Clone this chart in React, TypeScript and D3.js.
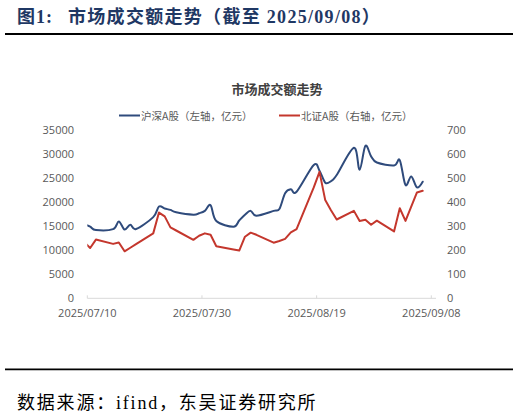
import * as d3 from "d3";

// trading days (last point sits on 09/06 in the source chart)
const dates = [
  "2025-07-09", "2025-07-10", "2025-07-11", "2025-07-14", "2025-07-15", "2025-07-16",
  "2025-07-17", "2025-07-18", "2025-07-21", "2025-07-22", "2025-07-23", "2025-07-24",
  "2025-07-25", "2025-07-28", "2025-07-29", "2025-07-30", "2025-07-31", "2025-08-01",
  "2025-08-04", "2025-08-05", "2025-08-06", "2025-08-07", "2025-08-08", "2025-08-11",
  "2025-08-12", "2025-08-13", "2025-08-14", "2025-08-15", "2025-08-18", "2025-08-19",
  "2025-08-20", "2025-08-21", "2025-08-22", "2025-08-25", "2025-08-26", "2025-08-27",
  "2025-08-28", "2025-08-29", "2025-09-01", "2025-09-02", "2025-09-03", "2025-09-04",
  "2025-09-05", "2025-09-06",
];

// 沪深A股 (亿元, left axis)
const hsValues = [
  15300, 14800, 14100, 14300, 15900, 14200, 15200, 14300, 16800, 19000, 18600, 18300,
  17800, 17300, 17600, 18100, 19300, 16000, 14800, 16100, 17300, 18100, 17100, 18100,
  18500, 21800, 22600, 22100, 27700, 26500, 24000, 24300, 25600, 31300, 26700, 31700,
  29500, 28200, 27600, 28700, 23500, 25300, 23000, 24200,
];

// 北证A股 (亿元, right axis)
const bjValues = [
  231, 207, 242, 224, 230, 193, 208, 223, 268, 355, 339, 293,
  280, 241, 258, 268, 262, 214, 201, 196, 254, 271, 262, 229,
  236, 245, 272, 286, 460, 525, 407, 365, 326, 362, 320, 325,
  304, 321, 276, 373, 320, 380, 439, 446,
];

const xTickDates = ["2025-07-10", "2025-07-30", "2025-08-19", "2025-09-08"];
const leftTicks = [0, 5000, 10000, 15000, 20000, 25000, 30000, 35000];
const rightTicks = [0, 100, 200, 300, 400, 500, 600, 700];

const W = 518;
const H = 416;
const BLUE = "#2f4b7c";
const RED = "#c4372d";
const GREY_TEXT = "#595959";
const TITLE_BLUE = "#1f3864";
const NUM_FONT = "'Open Sans', 'Noto Sans CJK SC', sans-serif";
const CJK_FONT = "'Noto Sans CJK SC', sans-serif";
const SERIF_FONT = "'Liberation Serif', 'Noto Sans CJK SC', serif";

const parse = d3.timeParse("%Y-%m-%d");
const fmt = d3.timeFormat("%Y/%m/%d");

export default function App() {
  const days = dates.map((d) => parse(d) as Date);
  const ticks = xTickDates.map((d) => parse(d) as Date);

  const x = d3.scaleTime().domain([ticks[0], ticks[ticks.length - 1]]).range([87.3, 431.3]);
  const yL = d3.scaleLinear().domain([0, 35000]).range([297.5, 130]);
  const yR = d3.scaleLinear().domain([0, 700]).range([297.5, 130]);

  // points sit in the middle of their day slot
  const px = (i: number) => x(d3.timeHour.offset(days[i], 12));

  const hsLine = d3
    .line<number>()
    .x((_, i) => px(i))
    .y((v) => yL(v))
    .curve(d3.curveCardinal.tension(0));

  const bjLine = d3
    .line<number>()
    .x((_, i) => px(i))
    .y((v) => yR(v));

  const [x0, x1] = x.range();
  const axisY = 298.3;

  return (
    <svg
      width={W}
      height={H}
      style={{ position: "absolute", left: 0, top: 0, background: "#fff" }}
    >
      {/* header */}
      <text x={17} y={23} fontFamily={SERIF_FONT} fontWeight={700} fontSize={18} fill={TITLE_BLUE} letterSpacing={1}>
        图1:
      </text>
      <text x={68} y={23} fontFamily={SERIF_FONT} fontWeight={700} fontSize={18} fill={TITLE_BLUE} letterSpacing={1.3}>
        市场成交额走势（截至 2025/09/08）
      </text>
      <line x1={5} x2={513} y1={34} y2={34} stroke="#000" strokeWidth={1.8} />

      {/* chart title */}
      <text x={277} y={94} textAnchor="middle" fontFamily={CJK_FONT} fontWeight={700} fontSize={13} fill="#404040">
        市场成交额走势
      </text>

      {/* legend */}
      <line x1={119} x2={140} y1={115.5} y2={115.5} stroke={BLUE} strokeWidth={2} />
      <text x={141} y={119.5} fontFamily={CJK_FONT} fontSize={10.5} fill={GREY_TEXT}>
        沪深A股（左轴，亿元）
      </text>
      <line x1={279} x2={300} y1={115.5} y2={115.5} stroke={RED} strokeWidth={2} />
      <text x={301} y={119.5} fontFamily={CJK_FONT} fontSize={10.5} fill={GREY_TEXT}>
        北证A股（右轴，亿元）
      </text>

      {/* left axis */}
      {leftTicks.map((t) => (
        <text key={`l${t}`} x={74} y={yL(t) + 4} textAnchor="end" fontFamily={NUM_FONT} fontSize={11} fill={GREY_TEXT}>
          {t}
        </text>
      ))}

      {/* right axis */}
      {rightTicks.map((t) => (
        <text key={`r${t}`} x={447} y={yR(t) + 4} fontFamily={NUM_FONT} fontSize={11} fill={GREY_TEXT}>
          {t}
        </text>
      ))}

      {/* x axis */}
      <line x1={x0} x2={436} y1={axisY} y2={axisY} stroke="#d9d9d9" strokeWidth={1} />
      {ticks.map((t) => (
        <g key={fmt(t)} transform={`translate(${x(t)},0)`}>
          <line y1={axisY - 3} y2={axisY} stroke="#d9d9d9" />
          <text y={317} textAnchor="middle" fontFamily={NUM_FONT} fontSize={11} fill={GREY_TEXT}>
            {fmt(t)}
          </text>
        </g>
      ))}

      {/* series */}
      <defs>
        <clipPath id="plot-clip">
          <rect x={x0} y={100} width={x1 - x0 + 10} height={220} />
        </clipPath>
      </defs>
      <g clipPath="url(#plot-clip)" fill="none" strokeLinejoin="round" strokeLinecap="round">
        <path d={hsLine(hsValues) ?? ""} stroke={BLUE} strokeWidth={2} />
        <path d={bjLine(bjValues) ?? ""} stroke={RED} strokeWidth={2} />
      </g>

      {/* footer */}
      <line x1={5} x2={513} y1={369.3} y2={369.3} stroke="#000" strokeWidth={1.8} />
      <text x={17} y={409} fontFamily={SERIF_FONT} fontSize={18} fill="#000" letterSpacing={1.8}>
        数据来源：ifind，东吴证券研究所
      </text>
    </svg>
  );
}
